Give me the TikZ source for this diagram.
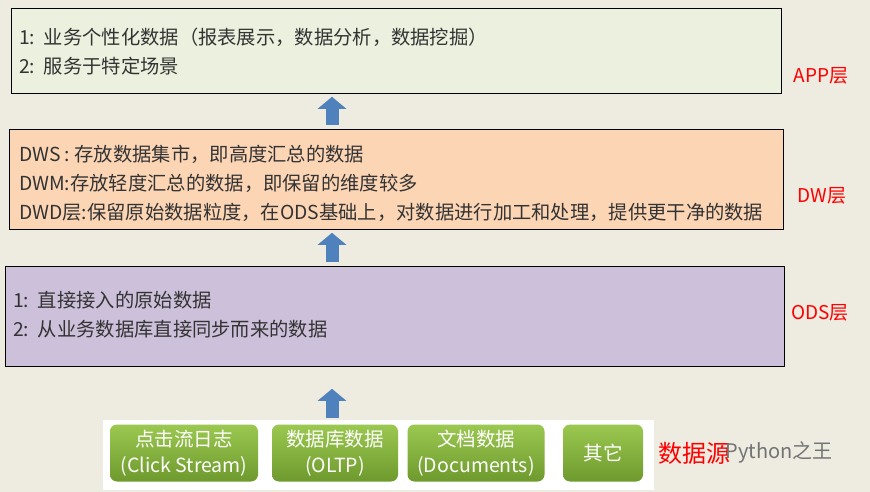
\documentclass[tikz,border=0pt]{standalone}
\usepackage{fontspec}
\setmainfont{Noto Sans CJK SC}
\usetikzlibrary{arrows.meta, positioning, calc}
\definecolor{bgc}{HTML}{EEEBE1}
\definecolor{appc}{HTML}{EBF1DE}
\definecolor{dwc}{HTML}{FCD5B5}
\definecolor{odsc}{HTML}{CCC0DA}
\definecolor{arrc}{HTML}{4F81BD}
\definecolor{gtop}{HTML}{9BC850}
\definecolor{gbot}{HTML}{6E9A2E}
\tikzset{
  layer/.style={draw=black, thick, anchor=north west, inner sep=0pt},
  layerlbl/.style={text=red, font=\fontsize{19}{21}\selectfont},
  body/.style={anchor=north west, align=left, text=black!80,
    font=\fontsize{19.3}{29}\selectfont, inner sep=0pt},
  uparrow/.style={arrc, line width=13pt, -{Triangle[width=28pt,length=12pt]}},
  srcbtn/.style={rounded corners=7pt, top color=gtop, bottom color=gbot,
    text=white, align=center, minimum height=57pt, inner sep=0pt,
    font=\fontsize{19.5}{26}\selectfont}
}
\begin{document}
\begin{tikzpicture}[x=1pt, y=-1pt]
  % background
  \fill[bgc] (0,0) rectangle (870,492);
  \useasboundingbox (0,0) rectangle (870,492);

  % --- layers ---
  \node[layer, fill=appc, minimum width=770pt, minimum height=85pt] (app) at (11,8) {};
  \node[layer, fill=dwc, minimum width=774pt, minimum height=100pt] (dw) at (9,129) {};
  \node[layer, fill=odsc, minimum width=779pt, minimum height=100pt] (ods) at (5,266) {};

  \node[body] (apptxt) at (19,28) {1:\ \ 业务个性化数据（报表展示，数据分析，数据挖掘）\\2:\ \ 服务于特定场景};
  \node[body] (dwtxt) at (19,145) {DWS : 存放数据集市，即高度汇总的数据\\DWM:存放轻度汇总的数据，即保留的维度较多\\DWD层:保留原始数据粒度，在ODS基础上，对数据进行加工和处理，提供更干净的数据};
  \node[body] (odstxt) at (13,291) {1:\ \ 直接接入的原始数据\\2:\ \ 从业务数据库直接同步而来的数据};

  \node[layerlbl] (applbl) at (821,76) {APP层};
  \node[layerlbl] (dwlbl) at (822,196) {DW层};
  \node[layerlbl] (odslbl) at (820,313) {ODS层};

  % --- data sources ---
  \fill[white] (103,420) rectangle (654,490);
  \node[srcbtn, minimum width=148pt] (clk) at (184,453) {点击流日志\\(Click Stream)};
  \node[srcbtn, minimum width=126pt] (oltp) at (335,453) {数据库数据\\(OLTP)};
  \node[srcbtn, minimum width=137pt] (doc) at (476,453) {文档数据\\(Documents)};
  \node[srcbtn, minimum width=80pt] (oth) at (603,453) {其它};
  \node[layerlbl, font=\fontsize{24}{26}\selectfont] (srclbl) at (694,453) {数据源};
  \node[text=black!55, font=\fontsize{20}{22}\selectfont, anchor=west] (wm) at (722,452) {Python之王};

  % --- arrows ---
  \coordinate (s1) at (332,418);
  \coordinate (s2) at (332,262);
  \coordinate (s3) at (332,125);
  \draw[uparrow] (s1) -- ($(s1 |- ods.south)+(0,22)$);
  \draw[uparrow] (s2) -- ($(s2 |- dw.south)+(0,3)$);
  \draw[uparrow] (s3) -- ($(s3 |- app.south)+(0,3)$);
\end{tikzpicture}
\end{document}
